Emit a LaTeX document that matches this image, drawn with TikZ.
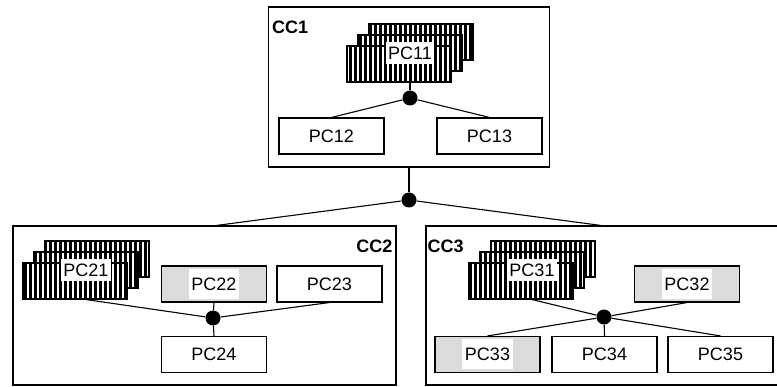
\documentclass[tikz,border=0pt]{standalone}
\usepackage{fontspec}
\setmainfont{Liberation Sans}
\usetikzlibrary{positioning,calc,patterns.meta}

\begin{document}
\begin{tikzpicture}[x=1pt,y=-1pt,
				every node/.style={font=\fontsize{18}{20}\selectfont},
				pcbox/.style={draw,line width=1.1pt,rectangle,minimum width=105pt,minimum height=36pt,inner sep=0pt,fill=white},
				greybox/.style={pcbox,fill=black!14},
				stackbox/.style={draw,line width=1.1pt,rectangle,minimum width=104pt,minimum height=36pt,inner sep=0pt,
					preaction={fill=white},pattern={Lines[angle=90,distance=5pt,line width=3pt]}},
				tag/.style={fill=white,inner xsep=2.5pt,inner ysep=4.5pt},
				greytag/.style={tag,minimum height=30pt},
				ccbox/.style={draw,line width=1.1pt,rectangle,inner sep=0pt},
				cclabel/.style={font=\fontsize{18}{20}\selectfont\bfseries,inner sep=0pt},
				joint/.style={circle,fill=black,inner sep=0pt,minimum size=15pt},
				link/.style={line width=1.1pt}]
				\useasboundingbox (0,0) rectangle (777,387);
				% outer boxes
				\node[ccbox,minimum width=281pt,minimum height=160pt] (CC1) at (409,87)      {};
				\node[ccbox,minimum width=383pt,minimum height=159pt] (CC2) at (204.5,305.5) {};
				\node[ccbox,minimum width=354pt,minimum height=159pt] (CC3) at (603,305.5)   {};
				\node[cclabel,anchor=north west] (CC1t) at ([shift={(4,14.5)}]CC1.north west)  {CC1};
				\node[cclabel,anchor=north east] (CC2t) at ([shift={(-4,14)}]CC2.north east)   {CC2};
				\node[cclabel,anchor=north west] (CC3t) at ([shift={(2,14)}]CC3.north west)    {CC3};
				
				% CC1
				\node[stackbox] (PC11c) at (421,42) {};
				\node[stackbox] (PC11b) at (410,53) {};
				\node[stackbox] (PC11a) at (399,64) {};
				\node[tag]      (PC11)  at (PC11b)  {PC11};
				\node[pcbox]    (PC12)  at (331.5,136) {PC12};
				\node[pcbox]    (PC13)  at (489.5,136) {PC13};
				\node[joint]    (J1)    at (410,98)    {};
				\node[joint]    (J0)    at (409,200)   {};
				
				% CC2
				\node[stackbox] (PC21c) at (97,259) {};
				\node[stackbox] (PC21b) at (86,270) {};
				\node[stackbox] (PC21a) at (75,281) {};
				\node[tag]      (PC21)  at (PC21b)  {PC21};
				\node[greybox]  (PC22)  at (214,284)     {};
				\node[greytag]  (PC22t) at (PC22)        {PC22};
				\node[pcbox]    (PC23)  at (329.5,284)   {PC23};
				\node[pcbox]    (PC24)  at (214,354.5)   {PC24};
				\node[joint]    (J2)    at (213,318)     {};
				
				% CC3
				\node[stackbox] (PC31c) at (543,259) {};
				\node[stackbox] (PC31b) at (532,270) {};
				\node[stackbox] (PC31a) at (521,281) {};
				\node[tag]      (PC31)  at (PC31b)  {PC31};
				\node[greybox]  (PC32)  at (687,284)     {};
				\node[greytag]  (PC32t) at (PC32)        {PC32};
				\node[greybox]  (PC33)  at (487.5,354.5) {};
				\node[greytag]  (PC33t) at (PC33)        {PC33};
				\node[pcbox]    (PC34)  at (604.5,354.5) {PC34};
				\node[pcbox]    (PC35)  at (720.5,354.5) {PC35};
				\node[joint]    (J3)    at (604,317)     {};
				
				\draw[link] (CC1.south) -- (J0);
				\draw[link] (J0) -- ([xshift=12pt]CC2.north);
				\draw[link] (J0) -- ([xshift=-2pt]CC3.north);
				\draw[link] (PC11 |- PC11a.south) -- (J1);
				\draw[link] (J1) -- (PC12.north);
				\draw[link] (J1) -- (PC13.north);
				\draw[link] (PC21 |- PC21a.south) -- (J2);
				\draw[link] (PC22.south) -- (J2);
				\draw[link] (J2) -- (PC23.south);
				\draw[link] (J2) -- (PC24.north);
				\draw[link] (PC31 |- PC31a.south) -- (J3);
				\draw[link] (J3) -- (PC32.south);
				\draw[link] (J3) -- (PC33.north);
				\draw[link] (J3) -- (PC34.north);
				\draw[link] (J3) -- (PC35.north);
			\end{tikzpicture}
\end{document}
